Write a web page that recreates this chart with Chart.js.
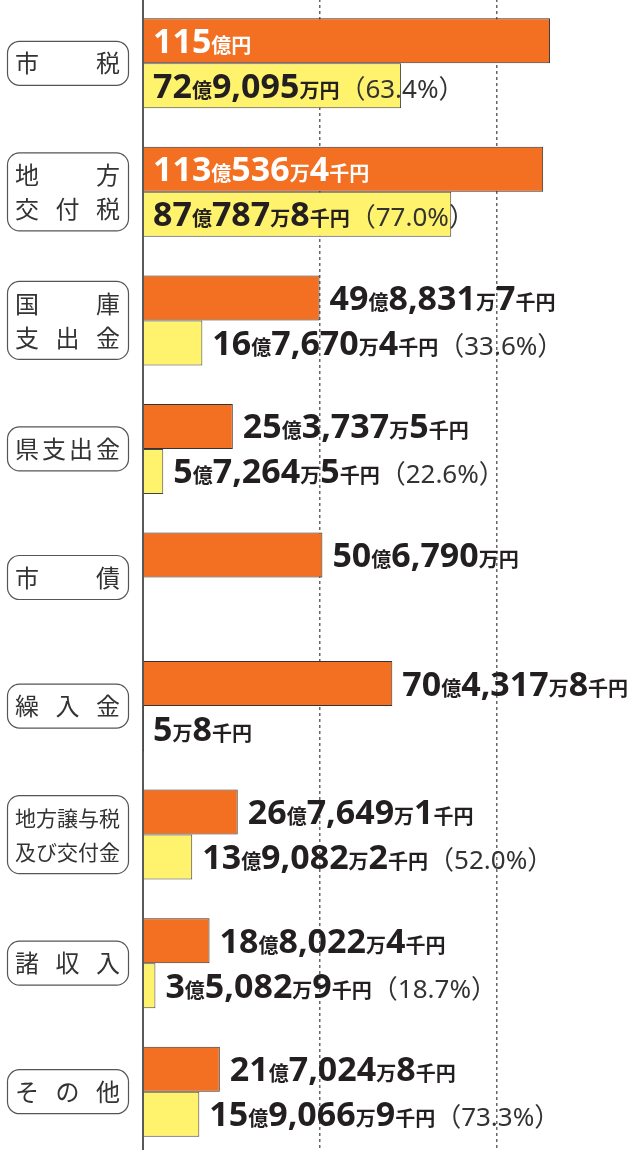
<!DOCTYPE html>
<html>
<head>
<meta charset="utf-8">
<script src="https://cdn.jsdelivr.net/npm/chart.js@4.4.0/dist/chart.umd.min.js"></script>
<style>
html, body { margin: 0; padding: 0; background: #fff; overflow: hidden; }
#wrap { position: relative; width: 635px; height: 1150px; overflow: hidden; }
#budget { position: absolute; left: 0; top: -1px; }
</style>
</head>
<body>
<div id="wrap"><canvas id="budget" width="635" height="1157"></canvas></div>
<script>
// 単位：億円
var categories = [["市税"], ["地方", "交付税"], ["国庫", "支出金"], ["県支出金"], ["市債"], ["繰入金"], ["地方譲与税", "及び交付金"], ["諸収入"], ["その他"]];
var budget = [115, 113.05364, 49.88317, 25.37375, 50.679, 70.43178, 26.76491, 18.80224, 21.70248];
var actual = [72.9095, 87.07878, 16.76704, 5.72645, null, 0.00058, 13.90822, 3.50829, 15.90669];
var budgetText = ["115億円", "113億536万4千円", "49億8,831万7千円", "25億3,737万5千円", "50億6,790万円", "70億4,317万8千円", "26億7,649万1千円", "18億8,022万4千円", "21億7,024万8千円"];
var actualText = ["72億9,095万円", "87億787万8千円", "16億7,670万4千円", "5億7,264万5千円", null, "5万8千円", "13億9,082万2千円", "3億5,082万9千円", "15億9,066万9千円"];
var rateText = ["63.4%", "77.0%", "33.6%", "22.6%", null, null, "52.0%", "18.7%", "73.3%"];
var guideLines = [50, 100];

var color = {
	orange: "#f36f21"
  , yellow: "#fff36d"
  , ink: "#231f20"
  , box: "#555"
};

var BIG = "700 34px 'Noto Sans', 'Noto Sans CJK JP', sans-serif"
  , SMALL = "700 20px 'Noto Sans CJK JP', sans-serif"
  , RATE = "400 26px 'Noto Sans', 'Noto Sans CJK JP', sans-serif"
  , BOXFONT = "'Noto Sans CJK JP', sans-serif";

function runs(t) {
	return t.match(/[0-9,]+|[^0-9,]+/g);
}

function amountWidth(ctx, t) {
	var w = 0;
	runs(t).forEach(function (r) {
		ctx.font = /[0-9]/.test(r) ? BIG : SMALL;
		w += ctx.measureText(r).width;
	});
	return w;
}

function drawAmount(ctx, t, x, y) {
	runs(t).forEach(function (r) {
		ctx.font = /[0-9]/.test(r) ? BIG : SMALL;
		ctx.fillText(r, x, y);
		x += ctx.measureText(r).width;
	});
	return x;
}

var valueLabels = {
	id: "valueLabels",
	afterDatasetsDraw: function (chart) {
		var ctx = chart.ctx
		  , x0 = chart.scales.x.getPixelForValue(0);
		ctx.save();
		ctx.textAlign = "left";
		ctx.textBaseline = "alphabetic";
		[budgetText, actualText].forEach(function (texts, d) {
			var meta = chart.getDatasetMeta(d);
			texts.forEach(function (t, i) {
				if (!t) return;
				var bar = meta.data[i]
				  , bx = isNaN(bar.x) ? x0 : bar.x
				  , w = amountWidth(ctx, t)
				  , inside = bx - x0 > w + 40
				  , sx = inside ? x0 + 10 : Math.max(bx, x0) + 10
				  , y = bar.y + 12;
				ctx.fillStyle = (inside && d === 0) ? "#fff" : color.ink;
				var ex = drawAmount(ctx, t, sx, y);
				if (d === 1 && rateText[i]) {
					ctx.font = RATE;
					ctx.fillStyle = "#333";
					ctx.fillText("（" + rateText[i] + "）", ex, y);
				}
			});
		});
		ctx.restore();
	},
	afterDraw: function (chart) {
		var ctx = chart.ctx
		  , x0 = chart.scales.x.getPixelForValue(0)
		  , ys = chart.scales.y;
		ctx.save();
		// 軸線
		ctx.strokeStyle = "#222";
		ctx.lineWidth = 1.5;
		ctx.beginPath();
		ctx.moveTo(x0, 0);
		ctx.lineTo(x0, chart.height);
		ctx.stroke();

		// 項目名の枠
		categories.forEach(function (lines, i) {
			var cy = ys.getPixelForValue(i)
			  , h = lines.length > 1 ? 78 : 44
			  , left = 7, width = 121;
			ctx.strokeStyle = color.box;
			ctx.lineWidth = 1.2;
			ctx.beginPath();
			ctx.roundRect(left + 0.5, cy - h / 2, width, h, 12);
			ctx.stroke();

			ctx.fillStyle = "#333";
			ctx.textAlign = "center";
			ctx.textBaseline = "middle";
			lines.forEach(function (line, l) {
				var chars = Array.from(line)
				  , n = chars.length
				  , f = n > 4 ? 21 : 24
				  , ly = cy + (lines.length > 1 ? (l === 0 ? -17 : 17) : 0);
				ctx.font = "400 " + f + "px " + BOXFONT;
				chars.forEach(function (c, k) {
					var cx = n === 1 ? 67.5 : 15 + f / 2 + k * (105 - f) / (n - 1);
					ctx.fillText(c, cx, ly);
				});
			});
		});
		ctx.restore();
	}
};

var ctx = document.getElementById("budget").getContext("2d");
var budgetChart = new Chart(ctx, {
	type: "bar",
	data: {
		labels: categories,
		datasets: [
			{
				label: "予算額",
				data: budget,
				backgroundColor: color.orange,
				borderColor: "#333",
				borderWidth: 1
			},
			{
				label: "収入済額",
				data: actual,
				backgroundColor: color.yellow,
				borderColor: "#444",
				borderWidth: 1
			}
		]
	},
	options: {
		indexAxis: "y",
		responsive: false,
		devicePixelRatio: 1,
		animation: false,
		categoryPercentage: 0.7,
		barPercentage: 1.0,
		layout: { padding: { left: 143, right: 0, top: 0, bottom: 0 } },
		plugins: {
			legend: { display: false },
			tooltip: { enabled: false }
		},
		scales: {
			y: { display: false },
			x: {
				min: 0,
				max: 139,
				ticks: { display: false, stepSize: 50 },
				grid: {
					drawTicks: false,
					lineWidth: 1.5,
					color: function (c) {
						return (c.tick && guideLines.indexOf(c.tick.value) >= 0) ? "#666" : "rgba(0,0,0,0)";
					}
				},
				border: { display: false, dash: [3, 3] }
			}
		}
	},
	plugins: [valueLabels]
});
</script>
</body>
</html>
